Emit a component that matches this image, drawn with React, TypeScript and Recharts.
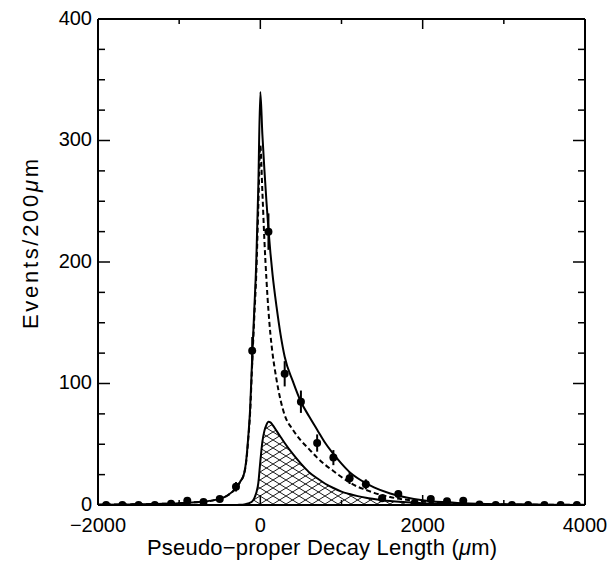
import React from 'react';
import { ComposedChart, Line, Area, Scatter, ErrorBar, XAxis, YAxis } from 'recharts';

// Fit curves sampled at these decay lengths (µm)
const curveX = [-2000, -1600, -1200, -1000, -800, -600, -500, -400, -300, -250, -200, -175, -150, -125, -100, -75, -50, -25, 0, 25, 50, 75, 100, 125, 150, 200, 250, 300, 400, 500, 600, 700, 800, 900, 1000, 1100, 1200, 1300, 1400, 1600, 1800, 2000, 2250, 2500, 3000, 3500, 4000];
// total fit (solid)
const totalFit = [0.3, 0.5, 1.0, 1.5, 2.3, 3.6, 5, 8, 14, 19, 26, 36, 55, 80, 122, 160, 200, 262, 340, 305, 276, 250, 227, 207, 190, 163, 140, 122, 102, 85, 73, 62, 51, 42, 34, 27, 22, 18, 14.5, 9.5, 6.2, 4, 2.4, 1.4, 0.6, 0.3, 0.1];
// prompt + background (dashed)
const promptFit = [0.3, 0.5, 1.0, 1.5, 2.3, 3.6, 5, 8, 14, 19, 25.5, 35, 53, 77, 117, 154, 190, 245, 296, 258, 218, 186, 160, 140, 125, 103, 86, 74, 62, 53, 46, 39, 33, 28, 23, 18.5, 15, 12.5, 10, 6.5, 4.3, 2.8, 1.6, 1.0, 0.4, 0.2, 0.1];
// B component (hatched)
const bFit = [0, 0, 0, 0, 0, 0, 0, 0, 0, 0.2, 0.5, 0.8, 1.3, 2, 3, 5.5, 10, 18, 36, 52, 61, 66, 68.5, 68, 66, 61, 56, 51, 42, 34, 27, 22, 17.5, 14, 11, 9, 7.3, 6, 5, 3.3, 2.3, 1.5, 0.9, 0.5, 0.2, 0.1, 0];

// Data points (200 µm bins)
const binCenters = [-1900, -1700, -1500, -1300, -1100, -900, -700, -500, -300, -100, 100, 300, 500, 700, 900, 1100, 1300, 1500, 1700, 1900, 2100, 2300, 2500, 2700, 2900, 3100, 3300, 3500, 3700, 3900];
const binCounts = [0, 0, 0, 0, 1, 3.5, 2.5, 5, 15, 127, 225, 108, 85, 51, 39, 22, 17, 5.5, 9, 1.5, 5, 3, 3.5, 0.5, 0, 0, 0, 0, 0, 0];
const binErrors = [0, 0, 0, 0, 1, 1.9, 1.6, 2.2, 3.9, 11.3, 15, 10.4, 9.2, 7.1, 6.2, 4.7, 4.1, 2.3, 3, 1.2, 2.2, 1.7, 1.9, 0.7, 0, 0, 0, 0, 0, 0];

const xTicks = [-2000, -1000, 0, 1000, 2000, 3000, 4000];
const xLabelTicks = [-2000, 0, 2000, 4000];
const yTicks = [0, 25, 50, 75, 100, 125, 150, 175, 200, 225, 250, 275, 300, 325, 350, 375, 400];
const yLabelTicks = [0, 100, 200, 300, 400];

const curveRows = curveX.map((x, i) => ({ x, total: totalFit[i], prompt: promptFit[i], b: bFit[i] }));
const pointRows = binCenters.map((x, i) => ({ x, y: binCounts[i], err: binErrors[i] }));

const FONT = "'Liberation Sans', Arial, Helvetica, sans-serif";
const fmt = (v: number) => (v < 0 ? '\u2212' + Math.abs(v) : String(v));

const BottomTick = (props: any) => {
  const { x, y, payload } = props;
  const v = payload.value;
  const major = xLabelTicks.includes(v);
  return (
    <g>
      <line x1={x} y1={y} x2={x} y2={y - (major ? 10 : 5)} stroke="#000" strokeWidth={1.5} />
      {major && (
        <text x={x} y={y + 27} textAnchor="middle" fontSize={20} fontFamily={FONT} fill="#000">
          {fmt(v)}
        </text>
      )}
    </g>
  );
};

const TopTick = (props: any) => {
  const { x, y, payload } = props;
  const major = xLabelTicks.includes(payload.value);
  return <line x1={x} y1={y} x2={x} y2={y + (major ? 10 : 5)} stroke="#000" strokeWidth={1.5} />;
};

const LeftTick = (props: any) => {
  const { x, y, payload } = props;
  const v = payload.value;
  const major = yLabelTicks.includes(v);
  return (
    <g>
      <line x1={x} y1={y} x2={x + (major ? 12 : 7)} y2={y} stroke="#000" strokeWidth={1.5} />
      {major && (
        <text x={x - 6} y={y + 5.5} textAnchor="end" fontSize={20} fontFamily={FONT} fill="#000">
          {fmt(v)}
        </text>
      )}
    </g>
  );
};

const RightTick = (props: any) => {
  const { x, y, payload } = props;
  const major = yLabelTicks.includes(payload.value);
  return <line x1={x} y1={y} x2={x - (major ? 12 : 7)} y2={y} stroke="#000" strokeWidth={1.5} />;
};

const XTitle = () => (
  <text
    x={322}
    y={555}
    textAnchor="middle"
    fontSize={22}
    fontFamily={FONT}
    fill="#000"
    textLength={350}
    lengthAdjust="spacing"
  >
    Pseudo{'\u2212'}proper Decay Length (<tspan fontStyle="italic">{'\u03bc'}</tspan>m)
  </text>
);

const YTitle = () => (
  <text
    transform="translate(30,244) rotate(-90)"
    x={0}
    y={0}
    dy="0.35em"
    textAnchor="middle"
    fontSize={22}
    fontFamily={FONT}
    fill="#000"
    textLength={170}
    lengthAdjust="spacing"
  >
    Events/200<tspan fontStyle="italic">{'\u03bc'}</tspan>m
  </text>
);

const Dot = (props: any) => {
  const { cx, cy } = props;
  if (cx == null || cy == null) return null;
  return <circle cx={cx} cy={cy} r={4} fill="#000" />;
};

export default function App() {
  return (
    <div style={{ position: 'absolute', left: 0, top: 0, background: '#fff' }}>
      <ComposedChart
        width={613}
        height={564}
        data={curveRows}
        margin={{ top: 18, right: 27, bottom: 0, left: 0 }}
      >
        <defs>
          <pattern id="xhatch" patternUnits="userSpaceOnUse" width="13" height="8">
            <path d="M0,0 L13,8 M0,8 L13,0" stroke="#000" strokeWidth="0.9" fill="none" />
          </pattern>
        </defs>
        <XAxis
          dataKey="x"
          type="number"
          domain={[-2000, 4000]}
          allowDataOverflow
          ticks={xTicks}
          interval={0}
          height={59}
          tickSize={0}
          tickMargin={0}
          tickLine={false}
          axisLine={{ stroke: '#000', strokeWidth: 2 }}
          tick={<BottomTick />}
          label={<XTitle />}
        />
        <XAxis
          xAxisId="top"
          orientation="top"
          dataKey="x"
          type="number"
          domain={[-2000, 4000]}
          allowDataOverflow
          ticks={xTicks}
          interval={0}
          height={1}
          tickSize={0}
          tickMargin={0}
          tickLine={false}
          axisLine={{ stroke: '#000', strokeWidth: 2 }}
          tick={<TopTick />}
        />
        <YAxis
          type="number"
          domain={[0, 400]}
          allowDataOverflow
          ticks={yTicks}
          interval={0}
          width={98}
          tickSize={0}
          tickMargin={0}
          tickLine={false}
          axisLine={{ stroke: '#000', strokeWidth: 2 }}
          tick={<LeftTick />}
          label={<YTitle />}
        />
        <YAxis
          yAxisId="right"
          orientation="right"
          type="number"
          domain={[0, 400]}
          allowDataOverflow
          ticks={yTicks}
          interval={0}
          width={1}
          tickSize={0}
          tickMargin={0}
          tickLine={false}
          axisLine={{ stroke: '#000', strokeWidth: 2 }}
          tick={<RightTick />}
        />
        <Area
          type="monotone"
          dataKey="b"
          stroke="#000"
          strokeWidth={2}
          fill="url(#xhatch)"
          fillOpacity={1}
          isAnimationActive={false}
          dot={false}
          activeDot={false}
        />
        <Line
          type="monotone"
          dataKey="prompt"
          stroke="#000"
          strokeWidth={2}
          strokeDasharray="5 3"
          dot={false}
          activeDot={false}
          isAnimationActive={false}
        />
        <Line
          type="monotone"
          dataKey="total"
          stroke="#000"
          strokeWidth={2}
          dot={false}
          activeDot={false}
          isAnimationActive={false}
        />
        <Scatter data={pointRows} dataKey="y" shape={<Dot />} isAnimationActive={false}>
          <ErrorBar dataKey="err" direction="y" width={0} stroke="#000" strokeWidth={2} />
        </Scatter>
      </ComposedChart>
    </div>
  );
}
